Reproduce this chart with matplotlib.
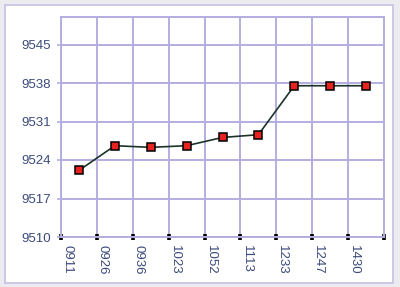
import numpy as np
import matplotlib
matplotlib.use('Agg')
import matplotlib.pyplot as plt
from matplotlib.patches import Rectangle

times = ['0911', '0926', '0936', '1023', '1052', '1113', '1233', '1247', '1430']
prices = [9522.1, 9526.6, 9526.3, 9526.6, 9528.1, 9528.6, 9537.5, 9537.5, 9537.5]
y_ticks = [9510, 9517, 9524, 9531, 9538, 9545]

grid_col = '#b3aee0'
text_col = '#3b4a7c'

plt.rcParams['font.family'] = 'Liberation Sans'

fig = plt.figure(figsize=(4, 2.87), dpi=100, facecolor='#ebebf0')
# white panel with lavender frame
fig.patches.append(Rectangle((5 / 400, 4 / 287), 388 / 400, 278 / 287,
                             transform=fig.transFigure, facecolor='white',
                             edgecolor='#c4c0e6', linewidth=1.2, zorder=-10))

ax = fig.add_axes([61 / 400, 50 / 287, 323 / 400, 220 / 287])
ax.set_facecolor('white')

x = np.arange(len(times))
ax.plot(x, prices, color='#1c3328', linewidth=1.2, marker='s', markersize=5.2,
        markerfacecolor='#e8231f', markeredgecolor='black', markeredgewidth=1.1,
        zorder=3)

ax.set_xlim(-0.5, len(times) - 0.5)
ax.set_ylim(9510, 9550)

# gridlines on category edges
edges = np.arange(len(times) + 1) - 0.5
for e in edges:
    ax.axvline(e, color=grid_col, linewidth=1.4, zorder=1)
for t in y_ticks + [9550]:
    ax.axhline(t, color=grid_col, linewidth=1.4, zorder=1)

# black tick marks on the edges, labels sit just right of each edge
ax.set_xticks(edges)
ax.set_xticklabels([])
ax.tick_params(axis='x', which='major', direction='inout', length=4, width=2.6,
               color='black')
ax.set_xticks(x - 0.33, minor=True)
ax.set_xticklabels(times, minor=True, rotation=270, fontsize=9.5, color=text_col,
                   va='top', ha='center')
ax.tick_params(axis='x', which='minor', length=0, pad=6)

ax.set_yticks(y_ticks)
ax.set_yticklabels([str(v) for v in y_ticks], fontsize=9.5, color=text_col)
ax.tick_params(axis='y', length=3, width=1.2, color=grid_col, pad=4)

for s in ax.spines.values():
    s.set_color(grid_col)
    s.set_linewidth(1.4)

fig.savefig('out.png', dpi=100, facecolor=fig.get_facecolor())
